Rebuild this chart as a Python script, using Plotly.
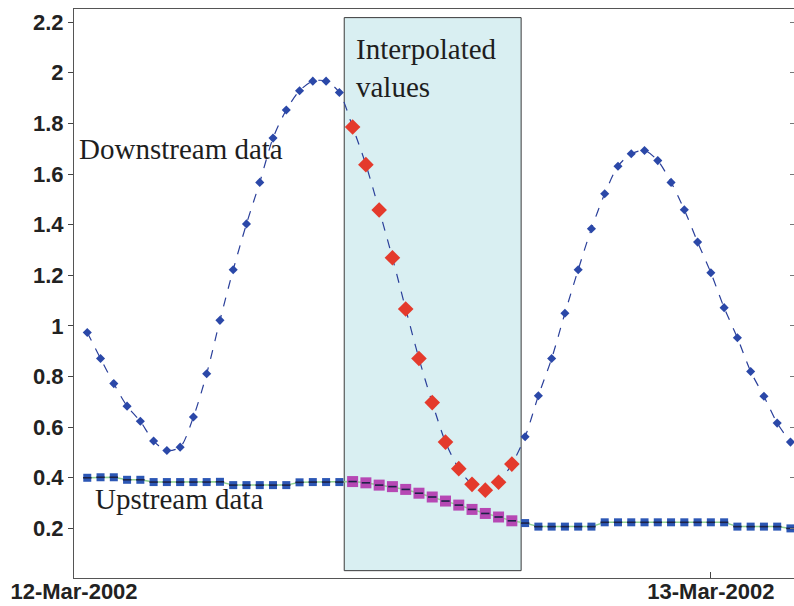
import pandas as pd
import plotly.graph_objects as go

# ---- data -------------------------------------------------------------
base = pd.Timestamp("2002-03-12 00:00")
times = [base + pd.Timedelta(minutes=30 * (k + 1)) for k in range(54)]

downstream = [0.974, 0.871, 0.772, 0.683, 0.623, 0.545, 0.508, 0.521, 0.640, 0.811,
              1.022, 1.222, 1.403, 1.567, 1.742, 1.853, 1.929, 1.967, 1.967, 1.922,
              1.786, 1.637, 1.458, 1.269, 1.067, 0.871, 0.697, 0.541, 0.436, 0.374,
              0.351, 0.382, 0.454, 0.562, 0.724, 0.871, 1.050, 1.222, 1.384, 1.522,
              1.631, 1.680, 1.693, 1.653, 1.567, 1.459, 1.331, 1.210, 1.072, 0.953,
              0.820, 0.722, 0.616, 0.541]

upstream = [0.400, 0.402, 0.402, 0.392, 0.392, 0.383, 0.383, 0.383, 0.383, 0.383,
            0.384, 0.371, 0.371, 0.371, 0.371, 0.371, 0.382, 0.383, 0.383, 0.383,
            0.385, 0.380, 0.371, 0.365, 0.354, 0.339, 0.324, 0.308, 0.292, 0.275,
            0.259, 0.245, 0.230, 0.221, 0.207, 0.207, 0.207, 0.207, 0.207, 0.224,
            0.224, 0.224, 0.224, 0.224, 0.224, 0.224, 0.224, 0.224, 0.224, 0.207,
            0.207, 0.207, 0.207, 0.200]

interp_start, interp_end = 20, 32          # indices of interpolated values
y_tick_vals = [0.2, 0.4, 0.6, 0.8, 1.0, 1.2, 1.4, 1.6, 1.8, 2.0, 2.2]
y_tick_text = ["0.2", "0.4", "0.6", "0.8", "1", "1.2", "1.4", "1.6", "1.8", "2", "2.2"]
x_tick_vals = [pd.Timestamp("2002-03-12"), pd.Timestamp("2002-03-13")]
x_tick_text = ["12-Mar-2002", "13-Mar-2002"]

box_x0 = pd.Timestamp("2002-03-12 10:11")
box_x1 = pd.Timestamp("2002-03-12 16:51")
box_y0, box_y1 = 0.033, 2.218

x_range = [pd.Timestamp("2002-03-12 00:00"), pd.Timestamp("2002-03-13 03:08")]
y_range = [0.004, 2.252]

# ---- split series ----------------------------------------------------
obs_idx = [k for k in range(len(times)) if not (interp_start <= k <= interp_end)]
int_idx = list(range(interp_start, interp_end + 1))

fig = go.Figure()

# shaded interpolation region
fig.add_shape(type="rect", xref="x", yref="y", x0=box_x0, x1=box_x1, y0=box_y0, y1=box_y1,
              fillcolor="#d9eff2", line=dict(color="#3a3a3a", width=1), layer="below")

# lines
fig.add_trace(go.Scatter(x=times, y=upstream, mode="lines",
                         line=dict(color="#8fd08f", width=1.5), hoverinfo="skip"))
fig.add_trace(go.Scatter(x=times, y=downstream, mode="lines",
                         line=dict(color="#2a3f9a", width=1.2, dash="dash", shape="spline",
                                   smoothing=0.8), hoverinfo="skip"))

# upstream markers (observed = blue squares, interpolated = purple squares)
fig.add_trace(go.Scatter(x=[times[k] for k in obs_idx], y=[upstream[k] for k in obs_idx],
                         mode="markers",
                         marker=dict(symbol="square", size=8, color="#2c57b5",
                                     line=dict(width=0))))
fig.add_trace(go.Scatter(x=[times[k] for k in int_idx], y=[upstream[k] for k in int_idx],
                         mode="markers",
                         marker=dict(symbol="square", size=11, color="#b648b4",
                                     line=dict(width=0))))
fig.add_trace(go.Scatter(x=times, y=upstream, mode="markers",
                         marker=dict(symbol="line-ew", size=6,
                                     line=dict(width=1.6, color="#1c2246"))))

# downstream markers
fig.add_trace(go.Scatter(x=[times[k] for k in obs_idx], y=[downstream[k] for k in obs_idx],
                         mode="markers",
                         marker=dict(symbol="diamond", size=7, color="#2b48a8",
                                     line=dict(width=0))))
fig.add_trace(go.Scatter(x=[times[k] for k in int_idx], y=[downstream[k] for k in int_idx],
                         mode="markers",
                         marker=dict(symbol="diamond", size=12, color="#e43a2c",
                                     line=dict(width=0))))

# invisible trace for right-side tick marks
fig.add_trace(go.Scatter(x=[times[0]], y=[downstream[0]], yaxis="y2", mode="markers",
                         marker=dict(opacity=0), hoverinfo="skip"))

serif = dict(family="Liberation Serif, Times New Roman, serif", size=29, color="#1e1e1e")
fig.add_annotation(xref="paper", yref="paper", x=0.004, y=0.754, xanchor="left",
                   yanchor="middle", text="Downstream data", showarrow=False, font=serif)
fig.add_annotation(xref="paper", yref="paper", x=0.026, y=0.139, xanchor="left",
                   yanchor="middle", text="Upstream data", showarrow=False, font=serif)
fig.add_annotation(xref="paper", yref="paper", x=0.389, y=0.962, xanchor="left",
                   yanchor="top", align="left", text="Interpolated<br>values",
                   showarrow=False, font=serif)

tickfont_y = dict(family="Liberation Sans, Arial, sans-serif", size=22, color="#222222",
                  weight="bold")
tickfont_x = dict(family="Liberation Sans, Arial, sans-serif", size=22, color="#222222",
                  weight="bold")

fig.update_layout(
    width=794, height=606,
    margin=dict(l=74, r=0, t=9, b=28, autoexpand=False),
    paper_bgcolor="white", plot_bgcolor="white",
    showlegend=False,
    xaxis=dict(range=x_range, type="date", tickmode="array", tickvals=x_tick_vals,
               ticktext=x_tick_text, ticks="inside", ticklen=6, tickcolor="#444444",
               showline=True, linecolor="#555555", linewidth=1, mirror=True,
               showgrid=False, zeroline=False, tickfont=tickfont_x, automargin=False,
               ticklabelstandoff=-6),
    yaxis=dict(range=y_range, tickmode="array", tickvals=y_tick_vals, ticktext=y_tick_text,
               ticks="outside", ticklen=5, tickcolor="#444444",
               showline=True, linecolor="#555555", linewidth=1,
               showgrid=False, zeroline=False, tickfont=tickfont_y, automargin=False),
    yaxis2=dict(range=y_range, overlaying="y", side="right", tickmode="array",
                tickvals=y_tick_vals, ticks="inside", ticklen=4, tickcolor="#777777",
                showticklabels=False, showline=False, showgrid=False, zeroline=False,
                automargin=False),
)

fig.write_html("out.html", config={"displayModeBar": False},
               post_script="document.body.style.margin='0';document.body.style.overflow='hidden';")
